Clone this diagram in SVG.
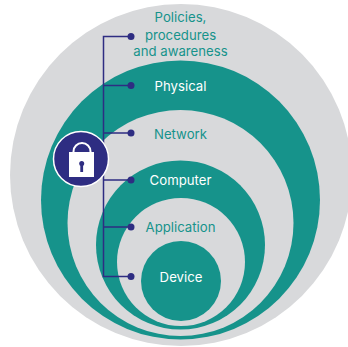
<svg xmlns="http://www.w3.org/2000/svg" width="348" height="347" viewBox="0 0 348 347">
<style>
.g{fill:#d8d9db}.t{fill:#16938b}
text{font-family:Inter,"Liberation Sans",sans-serif;font-size:13.2px;text-anchor:middle}
.lt{fill:#16938b}.lw{fill:#fff}
.c{fill:none;stroke:#2e2d82;stroke-width:1.5}
.d{fill:#2e2d82}
</style>
<rect width="348" height="347" fill="#fff"/>
<g id="policies"><circle class="g" cx="181" cy="175" r="171"/><text class="lt" x="180.500" y="22">Policies,</text><text class="lt" x="180.500" y="39.500">procedures</text><text class="lt" x="180.500" y="56">and awareness</text></g>
<g id="physical"><circle class="t" cx="180.500" cy="200" r="139.500"/><text class="lw" x="180.500" y="90.500">Physical</text></g>
<g id="network"><circle class="g" cx="180.500" cy="223" r="113"/><text class="lt" x="180.500" y="139">Network</text></g>
<g id="computer"><circle class="t" cx="180.500" cy="245" r="84.500"/><text class="lw" x="180.500" y="185">Computer</text></g>
<g id="application"><circle class="g" cx="181" cy="262" r="64"/><text class="lt" x="180.500" y="232">Application</text></g>
<g id="device"><circle class="t" cx="181" cy="281" r="40"/><text class="lw" x="181" y="282">Device</text></g>
<g id="connectors">
<path class="c" d="M130 36.500H103.500V276.500H130M103.500 85.500H130M103.500 133H130M103.500 180H130M103.500 227H130"/>
<circle class="d" cx="131" cy="36.500" r="3.500"/><circle class="d" cx="131" cy="85.500" r="3.500"/><circle class="d" cx="131" cy="133" r="3.500"/><circle class="d" cx="131" cy="180" r="3.500"/><circle class="d" cx="131" cy="227" r="3.500"/><circle class="d" cx="131" cy="276.500" r="3.500"/>
</g>
<g id="lock">
<circle cx="81" cy="159" r="27.500" fill="#2e2d82" stroke="#fff" stroke-width="1.500"/>
<path d="M73.500 153v-1.500a8.500 8.500 0 0 1 17 0v1.500" fill="none" stroke="#fff" stroke-width="2"/>
<rect x="69" y="152" width="25" height="25" fill="#fff"/>
<circle cx="81.700" cy="163.500" r="2.500" fill="#2e2d82"/><rect x="80.300" y="164" width="2.800" height="8" fill="#2e2d82"/>
</g>
</svg>
